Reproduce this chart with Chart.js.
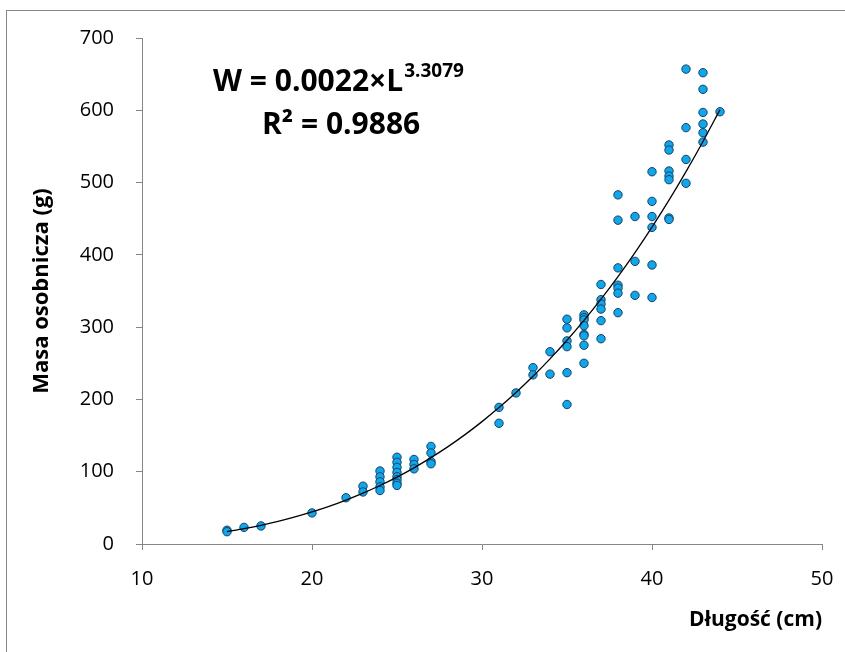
<!DOCTYPE html>
<html>
<head>
<meta charset="utf-8">
<script src="https://cdn.jsdelivr.net/npm/chart.js@4"></script>
<style>
  html, body { margin: 0; padding: 0; background: #fff; }
  #wrap { position: relative; width: 845px; height: 652px; overflow: hidden; }
</style>
</head>
<body>
<div id="wrap"><canvas id="fishChart" width="845" height="652"></canvas></div>
<script>
// measured fish: length (cm) and body mass (g)
const lengthCm = [
  15, 15, 16, 17, 20, 22, 23, 23,
  24, 24, 24, 24, 24,
  25, 25, 25, 25, 25, 25, 25, 25,
  26, 26, 26, 27, 27, 27, 27,
  31, 31, 32, 33, 33, 34, 34,
  35, 35, 35, 35, 35, 35,
  36, 36, 36, 36, 36, 36, 36, 36,
  37, 37, 37, 37, 37, 37,
  38, 38, 38, 38, 38, 38, 38,
  39, 39, 39,
  40, 40, 40, 40, 40, 40,
  41, 41, 41, 41, 41, 41, 41,
  42, 42, 42, 42,
  43, 43, 43, 43, 43, 43,
  44
];
const massG = [
  19, 17, 23, 25, 43, 64, 80, 72,
  101, 93, 86, 79, 74,
  120, 113, 106, 99, 93, 89, 84, 81,
  117, 110, 104, 135, 126, 114, 111,
  189, 167, 209, 244, 234, 266, 235,
  311, 299, 281, 273, 237, 193,
  317, 313, 310, 302, 290, 288, 275, 250,
  359, 338, 332, 325, 309, 284,
  483, 448, 382, 358, 354, 347, 320,
  453, 391, 344,
  515, 474, 453, 438, 386, 341,
  552, 545, 516, 509, 504, 451, 449,
  657, 576, 532, 499,
  652, 629, 597, 581, 569, 556,
  598
];

// power trend line
const trendX = [15, 16, 17, 18, 19, 20, 21, 22, 23, 24, 25, 26, 27, 28, 29,
                30, 31, 32, 33, 34, 35, 36, 37, 38, 39, 40, 41, 42, 43, 44];
const trendY = [17.1, 21.2, 25.9, 31.2, 37.4, 44.3, 52.0, 60.7, 70.3, 80.9, 92.6, 105.4, 119.5, 134.7, 151.3,
                169.3, 188.7, 209.6, 232.0, 256.1, 281.9, 309.4, 338.8, 370.0, 403.2, 438.4, 475.7, 515.2, 556.9, 600.9];

const xTicks = [10, 20, 30, 40, 50];
const yTicks = [0, 100, 200, 300, 400, 500, 600, 700];

const equationText = 'W = 0.0022×L';
const exponentText = '3.3079';
const r2Text = 'R² = 0.9886';

const axisGray = '#868686';
const tickFont = { family: 'Open Sans', size: 20 };

const frameAndLabels = {
  id: 'frameAndLabels',
  beforeDraw(chart) {
    const c = chart.ctx;
    c.save();
    c.fillStyle = '#fff';
    c.fillRect(0, 0, chart.width, chart.height);
    c.strokeStyle = axisGray;
    c.lineWidth = 1;
    c.strokeRect(6.5, 10.5, 900, 700);
    c.restore();
  },
  afterDraw(chart) {
    const c = chart.ctx;
    c.save();
    c.fillStyle = '#000';
    c.textBaseline = 'alphabetic';
    c.textAlign = 'left';
    c.font = 'bold 30px "Open Sans"';
    const eqX = 213, eqY = 91;
    c.fillText(equationText, eqX, eqY);
    const w = c.measureText(equationText).width;
    c.font = 'bold 19px "Open Sans"';
    c.fillText(exponentText, eqX + w + 1, eqY - 14);
    c.font = 'bold 30px "Open Sans"';
    c.fillText(r2Text, 262, 134);
    c.restore();
  }
};

const ctx = document.getElementById('fishChart').getContext('2d');
new Chart(ctx, {
  type: 'scatter',
  data: {
    datasets: [
      {
        type: 'line',
        label: 'Trend',
        data: trendX.map((x, i) => ({ x: x, y: trendY[i] })),
        borderColor: '#000',
        borderWidth: 1.3,
        pointRadius: 0,
        fill: false,
        cubicInterpolationMode: 'monotone'
      },
      {
        label: 'Masa',
        data: lengthCm.map((x, i) => ({ x: x, y: massG[i] })),
        backgroundColor: '#0AA8EC',
        borderColor: '#1A3F6B',
        borderWidth: 1,
        pointRadius: 4.2
      }
    ]
  },
  options: {
    responsive: false,
    animation: false,
    layout: { padding: { top: 38, right: 23, bottom: 0, left: 0 } },
    plugins: { legend: { display: false }, tooltip: { enabled: false } },
    scales: {
      x: {
        type: 'linear',
        min: 10, max: 50,
        afterBuildTicks: (s) => { s.ticks = xTicks.map(v => ({ value: v })); },
        afterFit: (s) => { s.height = 108; s.paddingLeft = 0; s.paddingRight = 0; },
        border: { display: true, color: axisGray, width: 1 },
        grid: { drawOnChartArea: false, drawTicks: true, tickLength: 6, color: axisGray },
        ticks: { font: tickFont, color: '#000', padding: 17, maxRotation: 0 },
        title: { display: true, text: 'Długość (cm)', align: 'end', font: { family: 'Open Sans', size: 21, weight: 'bold' }, color: '#000', padding: { top: 0, bottom: 19 } }
      },
      y: {
        min: 0, max: 700,
        afterBuildTicks: (s) => { s.ticks = yTicks.map(v => ({ value: v })); },
        afterFit: (s) => { s.width = 142; },
        border: { display: true, color: axisGray, width: 1 },
        grid: { drawOnChartArea: false, drawTicks: true, tickLength: 6, color: axisGray },
        ticks: { font: tickFont, color: '#000', padding: 22 },
        title: { display: true, text: 'Masa osobnicza (g)', font: { family: 'Open Sans', size: 22, weight: 'bold' }, color: '#000', padding: { top: 29, bottom: 0 } }
      }
    }
  },
  plugins: [frameAndLabels]
});
</script>
</body>
</html>
